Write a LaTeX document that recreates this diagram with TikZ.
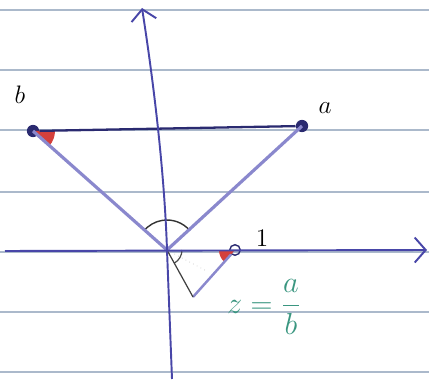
\documentclass[tikz,border=0pt]{standalone}
\usepackage{amsmath}
\usepackage{xcolor}
\usepackage{tikz}
\usetikzlibrary{arrows.meta, calc}

\definecolor{axisblue}{RGB}{72,70,168}
\definecolor{segblue}{RGB}{138,136,205}
\definecolor{navy}{RGB}{42,42,112}
\definecolor{wedgered}{RGB}{212,64,60}
\definecolor{inkgreen}{RGB}{58,150,128}
\definecolor{paper}{RGB}{150,168,190}

\begin{document}
\begin{tikzpicture}[x=0.02cm, y=0.02cm,
    axis/.style={axisblue, line width=1.1pt, -{Straight Barb[length=2.2mm,width=5mm]}},
    ray/.style={segblue, line width=1.8pt},
    dot/.style={circle, fill=navy, inner sep=0pt, minimum size=7pt},
    lbl/.style={font=\Large}]
  \useasboundingbox (0,0) rectangle (429,379);

  % ruled lines of the paper
  \foreach \y in {7, 67, 127, 187, 249, 309, 369} {
    \draw[paper!80, line width=0.6pt] (0,\y) -- (429,\y);
  }

  \coordinate (O) at (167,129);
  \coordinate (z) at (193,82);
  \coordinate (xl) at (5,128);
  \coordinate (xr) at (427,129);
  \coordinate (yb) at (172,0);
  \coordinate (yt) at (142,371);
  \node[dot] (b) at (33,248) {};
  \node[dot] (a) at (302,253) {};
  \node[draw=navy, circle, inner sep=0pt, minimum size=6pt, line width=0.8pt] (one) at (235,129) {};

  % angles
  \fill[wedgered] (b.center) -- ++(0:22) arc (0:-42:22) -- cycle;
  \fill[wedgered] (one.center) -- ++(180:16) arc (180:228:16) -- cycle;
  \draw[black!80, line width=0.8pt] ($(O)+(40:30)$) arc (40:140:30);
  \draw[black!70, line width=0.7pt] ($(O)+(0:15)$) arc (0:-61:15);

  % triangles
  \draw[ray] (O) -- (a.center);
  \draw[ray] (O) -- (b.center);
  \draw[navy, line width=1.3pt] (b) -- (a);
  \draw[segblue, line width=1.4pt] (one) -- (z);
  \draw[black!75, line width=0.7pt] (O) -- (z);
  \draw[gray!50, dotted] (O) -- ++(-28:45);

  % axes
  \draw[axis] (xl) -- (xr);
  \draw[axis] (yb) -- (O) .. controls (164,220) and (150,320) .. (yt);

  \node[lbl] (lb) at (20,284) {$b$};
  \node[lbl] (la) at (325,271) {$a$};
  \node[lbl] (l1) at (262,141) {$1$};
  \node[font=\LARGE, inkgreen] (lz) at (264,72) {$z=\dfrac{a}{b}$};
\end{tikzpicture}
\end{document}
